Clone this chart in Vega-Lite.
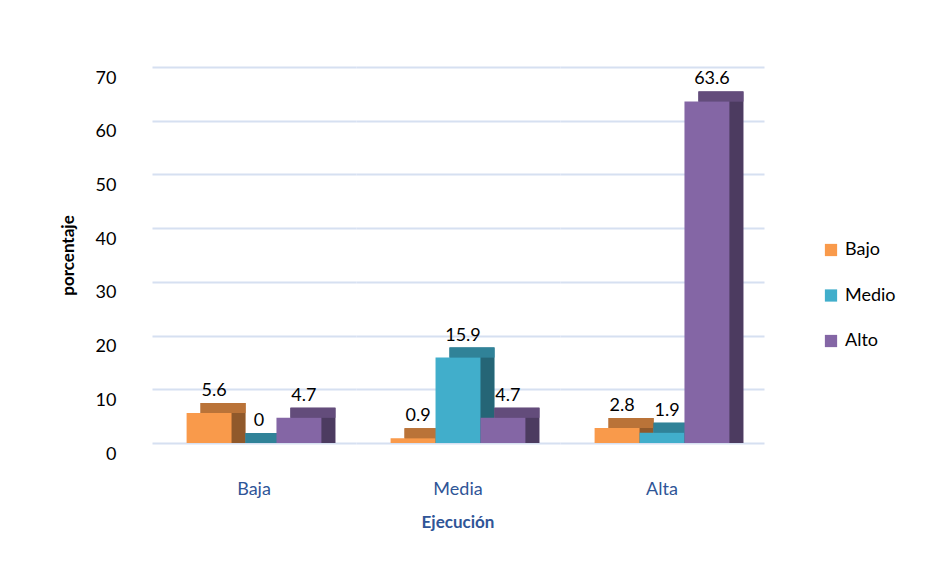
{
  "$schema": "https://vega.github.io/schema/vega-lite/v6.json",
  "padding": {"left": 59, "top": 67, "right": 10, "bottom": 10},
  "background": "white",
  "config": {
    "font": "Lato",
    "view": {"stroke": null},
    "facet": {"spacing": 0}
  },
  "data": {
    "values": [
      {"Ejecucion": "Baja", "Nivel": "Bajo", "valor": 5.6},
      {"Ejecucion": "Baja", "Nivel": "Medio", "valor": 0},
      {"Ejecucion": "Baja", "Nivel": "Alto", "valor": 4.7},
      {"Ejecucion": "Media", "Nivel": "Bajo", "valor": 0.9},
      {"Ejecucion": "Media", "Nivel": "Medio", "valor": 15.9},
      {"Ejecucion": "Media", "Nivel": "Alto", "valor": 4.7},
      {"Ejecucion": "Alta", "Nivel": "Bajo", "valor": 2.8},
      {"Ejecucion": "Alta", "Nivel": "Medio", "valor": 1.9},
      {"Ejecucion": "Alta", "Nivel": "Alto", "valor": 63.6}
    ]
  },
  "facet": {
    "column": {
      "field": "Ejecucion",
      "type": "nominal",
      "sort": ["Baja", "Media", "Alta"],
      "title": "Ejecución",
      "header": {
        "labelOrient": "bottom",
        "titleOrient": "bottom",
        "labelFont": "Lato",
        "labelFontSize": 18,
        "labelColor": "#2F5597",
        "labelPadding": 38,
        "titleFont": "Lato",
        "titleFontSize": 17,
        "titleFontWeight": "bold",
        "titleColor": "#2F5597",
        "titlePadding": 6
      }
    }
  },
  "spec": {
    "width": 204,
    "height": 376,
    "encoding": {
      "x": {
        "field": "Nivel",
        "type": "nominal",
        "sort": ["Bajo", "Medio", "Alto"],
        "scale": {"paddingInner": 0, "paddingOuter": 0.77},
        "axis": null
      },
      "y": {
        "field": "valor",
        "type": "quantitative",
        "scale": {"domain": [0, 70], "nice": false},
        "axis": {
          "title": "porcentaje",
          "values": [0, 10, 20, 30, 40, 50, 60, 70],
          "labelFont": "Lato",
          "labelFontSize": 18,
          "labelColor": "#000000",
          "labelPadding": 36,
          "labelOffset": 11,
          "domain": false,
          "ticks": false,
          "grid": true,
          "gridColor": "#D6E0F1",
          "gridWidth": 2,
          "titleFont": "Lato",
          "titleFontSize": 17,
          "titleFontWeight": "bold",
          "titleColor": "#000000",
          "titlePadding": 18
        }
      },
      "color": {
        "field": "Nivel",
        "type": "nominal",
        "sort": ["Bajo", "Medio", "Alto"],
        "scale": {"domain": ["Bajo", "Medio", "Alto"], "range": ["#F99A4B", "#41AECB", "#8466A5"]},
        "legend": {
          "title": null,
          "orient": "none",
          "legendX": 670,
          "legendY": 174,
          "symbolType": "square",
          "symbolSize": 150,
          "symbolStrokeWidth": 0,
          "labelFont": "Lato",
          "labelFontSize": 18,
          "labelColor": "#000000",
          "rowPadding": 27.5,
          "labelOffset": 5
        }
      }
    },
    "layer": [
      {
        "description": "side face of each block",
        "mark": {"type": "bar", "xOffset": 14, "yOffset": -10, "y2Offset": 0},
        "encoding": {"y2": {"datum": 0}}
      },
      {
        "mark": {"type": "bar", "xOffset": 14, "yOffset": -10, "y2Offset": 0, "opacity": 0.42},
        "encoding": {"y2": {"datum": 0}, "color": {"value": "#000000"}}
      },
      {
        "description": "top face of each block",
        "mark": {"type": "bar", "xOffset": 14, "yOffset": -10, "y2Offset": 0},
        "encoding": {"y2": {"field": "valor"}}
      },
      {
        "mark": {"type": "bar", "xOffset": 14, "yOffset": -10, "y2Offset": 0, "opacity": 0.25},
        "encoding": {"y2": {"field": "valor"}, "color": {"value": "#000000"}}
      },
      {
        "description": "front face",
        "mark": {"type": "bar"},
        "encoding": {"y2": {"datum": 0}}
      },
      {
        "mark": {"type": "text", "font": "Lato", "fontSize": 18, "baseline": "middle", "dy": -22, "xOffset": 5},
        "encoding": {
          "text": {"field": "valor", "type": "quantitative"},
          "color": {"value": "#000000"}
        }
      }
    ]
  }
}
